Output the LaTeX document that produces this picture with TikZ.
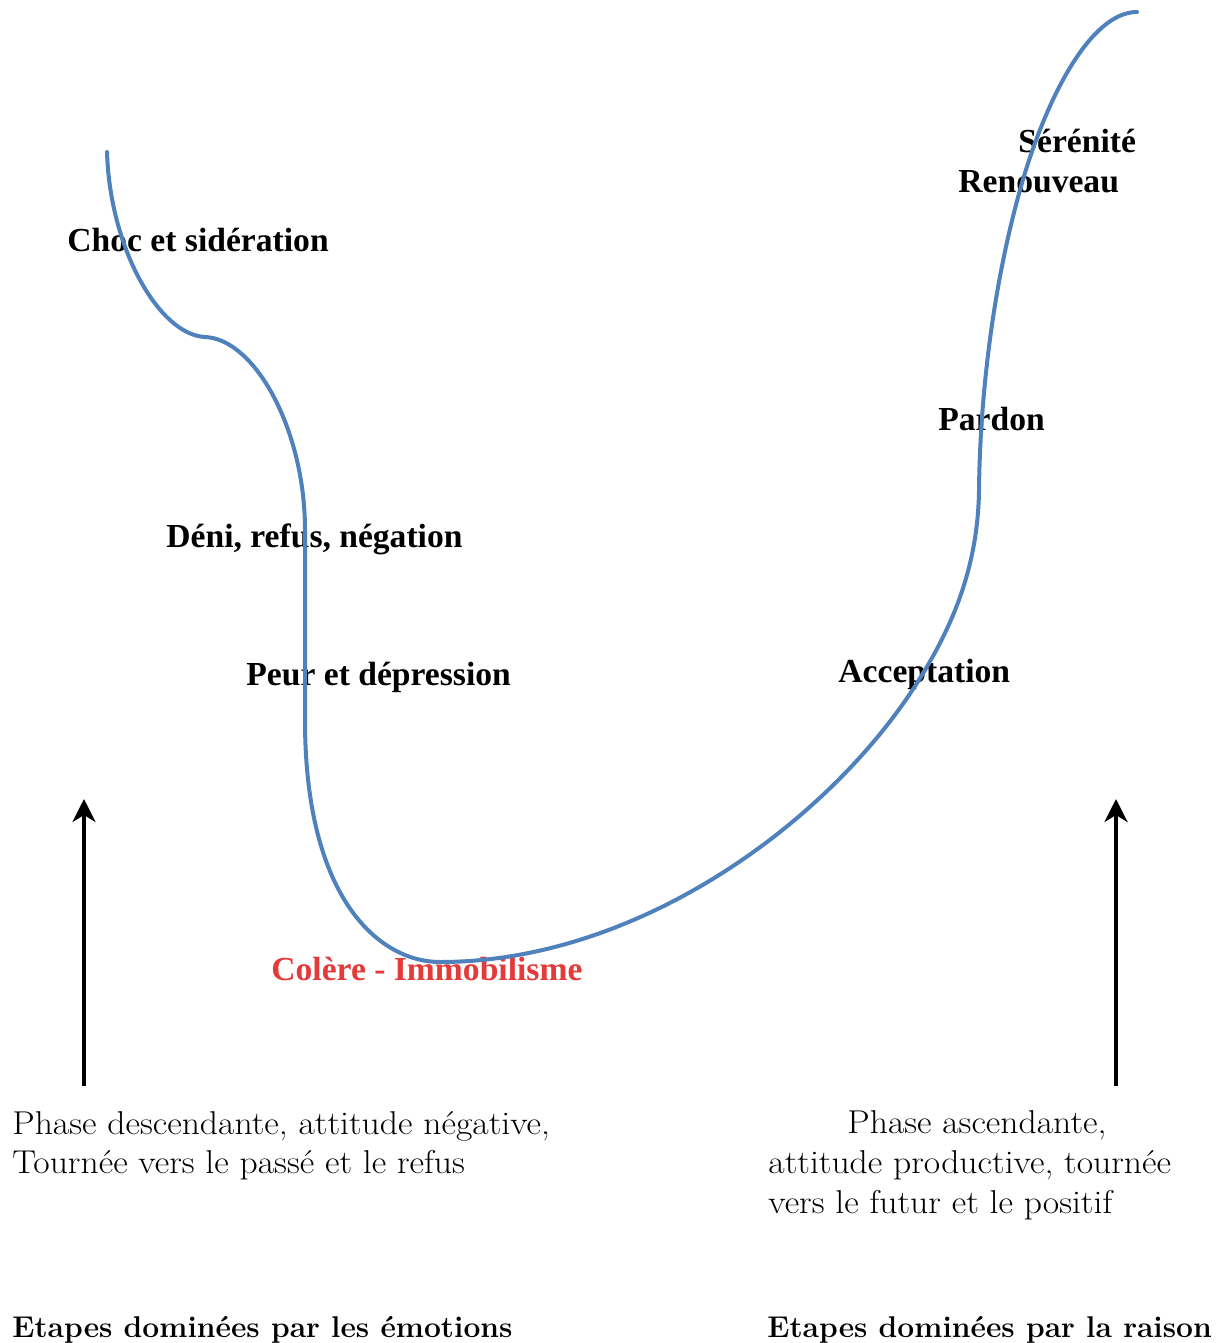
\documentclass[tikz,border=0pt]{standalone}
\usepackage{fontspec}
\newfontfamily\labelfont{Liberation Serif}
\newfontfamily\phasefont{Latin Modern Roman}[FakeStretch=1.08]
\usetikzlibrary{arrows.meta}
\definecolor{curveblue}{RGB}{79,129,189}
\definecolor{angerred}{RGB}{228,58,58}
\begin{document}
\begin{tikzpicture}[x=0.5pt,y=-0.5pt,
  stagelabel/.style={anchor=base west, inner sep=0pt, font=\labelfont\bfseries\fontsize{16.8}{20}\selectfont},
  phaselabel/.style={anchor=base west, inner sep=0pt, font=\phasefont\fontsize{16.5}{20}\selectfont},
  domainlabel/.style={anchor=base west, inner sep=0pt, font=\bfseries\fontsize{15}{18}\selectfont},
  uparrow/.style={line width=2.2pt, -{Stealth[length=11.5pt,width=11.5pt,inset=3.5pt]}},
  journey/.style={curveblue, line width=2pt, line cap=round}]
\useasboundingbox (0,0) rectangle (1225,1343);
\fill[white] (0,0) rectangle (1225,1343);

% stage labels
\node[stagelabel] (choc) at (67,251) {Choc et sidération};
\node[stagelabel] (deni) at (166,547) {Déni, refus, négation};
\node[stagelabel] (peur) at (246,685) {Peur et dépression};
\node[stagelabel, text=angerred] (colere) at (271,980) {Colère - Immobilisme};
\node[stagelabel] (accept) at (838,682) {Acceptation};
\node[stagelabel] (pardon) at (938,430) {Pardon};
\node[stagelabel] (renouv) at (958,192) {Renouveau};
\node[stagelabel] (seren) at (1018,152) {Sérénité};

% the curve
\draw[journey] (107,152)
  .. controls (110,250) and (160,335) .. (205,337)
  .. controls (255,339) and (305,430) .. (305,530)
  -- (305,720)
  .. controls (305,900) and (380,962) .. (440,962)
  .. controls (640,962) and (830,820) .. (917,683)
  .. controls (950,631) and (978,570) .. (979,490)
  .. controls (980,400) and (992,290) .. (1020,190)
  .. controls (1045,100) and (1090,12) .. (1137,12);

% arrows
\coordinate (la0) at (84,1086);
\coordinate (la1) at (84,799);
\coordinate (ra0) at (1116,1086);
\coordinate (ra1) at (1116,799);
\draw[uparrow] (la0) -- (la1);
\draw[uparrow] (ra0) -- (ra1);

% phase texts
\node[phaselabel] (pd1) at (12,1134) {Phase descendante, attitude négative,};
\node[phaselabel] (pd2) at (12,1173) {Tournée vers le passé et le refus};
\node[phaselabel] (pa1) at (847,1133) {Phase ascendante,};
\node[phaselabel] (pa2) at (768,1173) {attitude productive, tournée};
\node[phaselabel] (pa3) at (768,1213) {vers le futur et le positif};

% domain texts
\node[domainlabel] (emo) at (12,1337) {Etapes dominées par les émotions};
\node[domainlabel] (rai) at (767,1337) {Etapes dominées par la raison};
\end{tikzpicture}
\end{document}
